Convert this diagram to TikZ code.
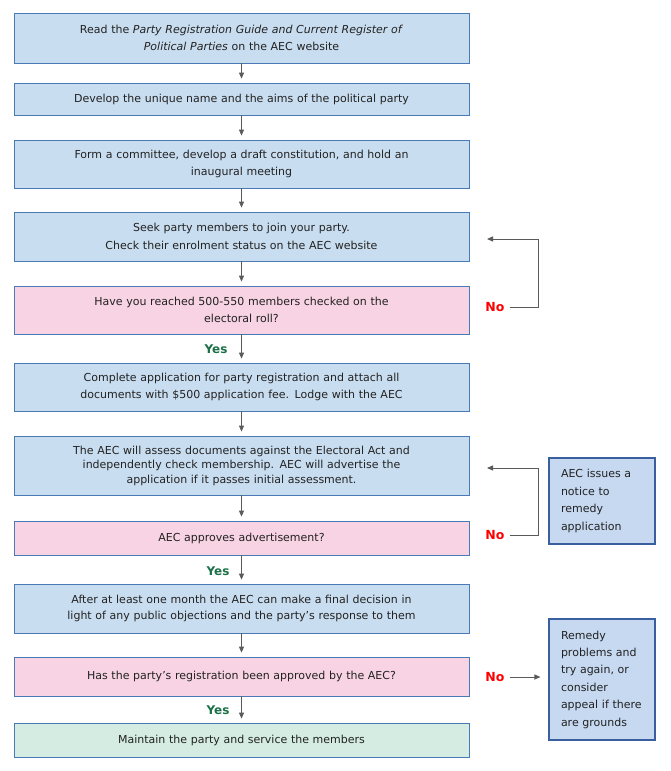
\documentclass[tikz,border=0pt]{standalone}
\usepackage{fontspec}
\setmainfont{DejaVu Sans}
\usetikzlibrary{arrows.meta}
\definecolor{bluefill}{HTML}{C9DDF0}
\definecolor{blueline}{HTML}{4A7AB5}
\definecolor{pinkfill}{HTML}{F8D3E3}
\definecolor{greenfill}{HTML}{D4ECE2}
\definecolor{sidefill}{HTML}{C6D9F1}
\definecolor{sideline}{HTML}{3A5F9F}
\definecolor{arrgray}{HTML}{5A5A5A}
\definecolor{txt}{HTML}{222222}
\definecolor{yesgreen}{HTML}{1B7048}
\definecolor{nored}{HTML}{FF0000}
\tikzset{
  box/.style={draw=blueline, line width=0.8pt, fill=bluefill, minimum width=455pt,
    text width=445pt, align=center, inner sep=0pt, text=txt,
    font=\fontsize{11}{16.5}\selectfont},
  qbox/.style={box, fill=pinkfill},
  gbox/.style={box, fill=greenfill},
  sidebox/.style={draw=sideline, line width=1.1pt, fill=sidefill, minimum width=106pt,
    text width=82pt, align=left, inner sep=0pt, text=txt,
    font=\fontsize{11}{17.4}\selectfont},
  arr/.style={draw=arrgray, line width=0.9pt, -{Triangle[length=6pt,width=5pt]}},
  yeslab/.style={text=yesgreen, font=\bfseries\fontsize{12}{13}\selectfont, inner sep=1pt},
  nolab/.style={text=nored, font=\bfseries\fontsize{12.5}{14}\selectfont, inner sep=1pt},
}
\begin{document}
\begin{tikzpicture}[x=1pt,y=-1pt]
\useasboundingbox (0,0) rectangle (671,771);
\fill[white] (0,0) rectangle (671,771);

\node[box, minimum height=50pt] (b1) at (241.5,38)
  {Read the \textit{Party Registration Guide and Current Register of}\\ \textit{Political Parties} on the AEC website};
\node[box, minimum height=32pt] (b2) at (241.5,99)
  {Develop the unique name and the aims of the political party};
\node[box, minimum height=48pt] (b3) at (241.5,164)
  {Form a committee, develop a draft constitution, and hold an\\ inaugural meeting};
\node[box, minimum height=49pt, font=\fontsize{11}{18}\selectfont] (b4) at (241.5,236.5)
  {Seek party members to join your party.\\ Check their enrolment status on the AEC website};
\node[qbox, minimum height=48pt] (b5) at (241.5,310)
  {Have you reached 500-550 members checked on the\\ electoral roll?};
\node[box, minimum height=48pt] (b6) at (241.5,387)
  {Complete application for party registration and attach all\\ documents with \$500 application fee. Lodge with the AEC};
\node[box, minimum height=59pt, font=\fontsize{11}{14.5}\selectfont] (b7) at (241.5,465.5)
  {The AEC will assess documents against the Electoral Act and\\ independently check membership. AEC will advertise the\\ application if it passes initial assessment.};
\node[qbox, minimum height=34pt] (b8) at (241.5,538)
  {AEC approves advertisement?};
\node[box, minimum height=49pt] (b9) at (241.5,608.5)
  {After at least one month the AEC can make a final decision in\\ light of any public objections and the party’s response to them};
\node[qbox, minimum height=39pt] (b10) at (241.5,676.5)
  {Has the party’s registration been approved by the AEC?};
\node[gbox, minimum height=34pt] (b11) at (241.5,740)
  {Maintain the party and service the members};

\node[sidebox, minimum height=86pt] (s1) at (602,501)
  {AEC issues a\\ notice to\\ remedy\\ application};
\node[sidebox, minimum height=121pt] (s2) at (602,679.5)
  {Remedy\\ problems and\\ try again, or\\ consider\\ appeal if there\\ are grounds};

% main flow
\foreach \a/\b in {b1/b2,b2/b3,b3/b4,b4/b5,b5/b6,b6/b7,b7/b8,b8/b9,b9/b10,b10/b11}
  \draw[arr, shorten >=4pt] (\a.south) -- (\b.north);

% yes labels
\node[yeslab] (y1) at (216,349) {Yes};
\node[yeslab] (y2) at (218,571) {Yes};
\node[yeslab] (y3) at (218,710) {Yes};

% no labels
\node[nolab] (n1) at (495,307) {No};
\node[nolab] (n2) at (495,535) {No};
\node[nolab] (n3) at (495,677) {No};

% loops
\coordinate (k1) at (538,239);
\coordinate (t1) at (487,239);
\coordinate (k2) at (538,468);
\coordinate (t2) at (487,468);
\draw[arr, shorten <=4pt] (n1.east) -- (n1.east -| k1) -- (k1) -- (t1);
\draw[arr, shorten <=4pt] (n2.east) -- (n2.east -| k2) -- (k2) -- (t2);
\draw[arr, shorten <=4pt, shorten >=8pt] (n3.east) -- (n3.east -| s2.west);
\end{tikzpicture}
\end{document}
